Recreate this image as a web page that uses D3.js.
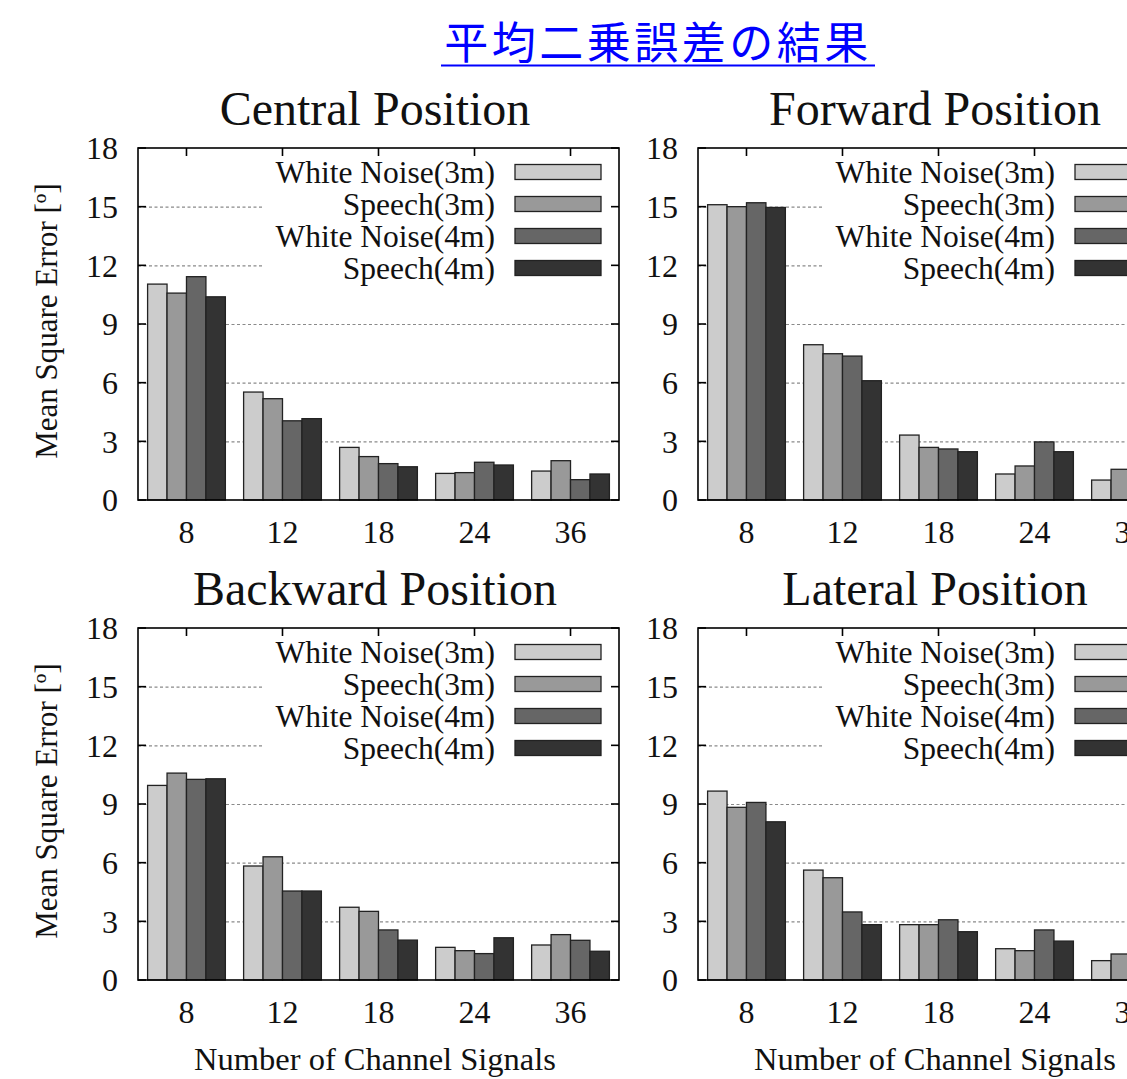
<!DOCTYPE html>
<html>
<head>
<meta charset="utf-8">
<script src="https://cdn.jsdelivr.net/npm/d3@7/dist/d3.min.js"></script>
<style>
  html, body { margin: 0; padding: 0; background: #fff; overflow: hidden; }
  svg { display: block; }
</style>
</head>
<body>
<script>
// Channel counts on the x axis
const categories = ["8", "12", "18", "24", "36"];
// Measurement conditions (one bar per condition in each group)
const seriesNames = ["White Noise(3m)", "Speech(3m)", "White Noise(4m)", "Speech(4m)"];
const seriesColors = ["#cccccc", "#999999", "#666666", "#333333"];
const yTicks = [0, 3, 6, 9, 12, 15, 18];

// Mean square error [deg] per channel count, in series order
const centralValues = [
  [11.04, 10.58, 11.42, 10.39],
  [5.52, 5.18, 4.05, 4.16],
  [2.69, 2.22, 1.86, 1.70],
  [1.36, 1.40, 1.93, 1.79],
  [1.48, 2.01, 1.04, 1.33]
];
const forwardValues = [
  [15.10, 15.00, 15.20, 14.96],
  [7.94, 7.48, 7.36, 6.10],
  [3.32, 2.69, 2.61, 2.47],
  [1.33, 1.74, 2.97, 2.47],
  [1.02, 1.57, 1.90, 1.40]
];
const backwardValues = [
  [9.95, 10.58, 10.26, 10.29],
  [5.83, 6.30, 4.55, 4.55],
  [3.72, 3.51, 2.56, 2.04],
  [1.67, 1.50, 1.35, 2.16],
  [1.79, 2.32, 2.03, 1.47]
];
const lateralValues = [
  [9.66, 8.83, 9.08, 8.09],
  [5.62, 5.23, 3.48, 2.83],
  [2.83, 2.83, 3.08, 2.47],
  [1.60, 1.50, 2.56, 1.99],
  [0.99, 1.33, 1.60, 1.20]
];

const panels = [
  { title: "Central Position", values: centralValues, col: 0, row: 0 },
  { title: "Forward Position", values: forwardValues, col: 1, row: 0 },
  { title: "Backward Position", values: backwardValues, col: 0, row: 1 },
  { title: "Lateral Position", values: lateralValues, col: 1, row: 1 }
];

const W = 1127, H = 1079;
const serif = "'Liberation Serif', 'Times New Roman', serif";

const svg = d3.select("body").append("svg")
  .attr("width", W).attr("height", H)
  .attr("viewBox", `0 0 ${W} ${H}`);
svg.append("rect").attr("width", W).attr("height", H).attr("fill", "#fff");

// Page heading
svg.append("text")
  .attr("x", 658).attr("y", 59)
  .attr("text-anchor", "middle")
  .attr("font-family", "'Noto Sans CJK JP', 'Noto Sans CJK SC', sans-serif")
  .attr("font-size", 44)
  .attr("letter-spacing", 3.5)
  .attr("fill", "#0000ff")
  .text("平均二乗誤差の結果");
svg.append("line")
  .attr("x1", 441).attr("x2", 875)
  .attr("y1", 65.5).attr("y2", 65.5)
  .attr("stroke", "#0000ff").attr("stroke-width", 2);

const plotW = 481, plotH = 352;

panels.forEach(p => {
  const left = 138 + 560 * p.col;
  const top = 148 + 480 * p.row;
  const g = svg.append("g").attr("transform", `translate(${left},${top})`);

  const x0 = d3.scaleBand().domain(categories).range([0, plotW])
    .paddingInner(0.19).paddingOuter(0.1);
  const x1 = d3.scaleBand().domain(d3.range(seriesNames.length))
    .range([0, x0.bandwidth()]);
  const y = d3.scaleLinear().domain([0, 18]).range([plotH, 0]);

  // Dashed horizontal grid
  g.append("g").selectAll("line")
    .data(yTicks.filter(t => t > 0 && t < 18))
    .join("line")
    .attr("x1", 0).attr("x2", plotW)
    .attr("y1", d => y(d) + 0.5).attr("y2", d => y(d) + 0.5)
    .attr("stroke", "#8a8a8a").attr("stroke-width", 1.2)
    .attr("stroke-dasharray", "3,2.5");

  // Legend backdrop hides the grid behind the key
  g.append("rect")
    .attr("x", 126).attr("y", 1)
    .attr("width", plotW - 127).attr("height", 141)
    .attr("fill", "#fff");

  // Bars
  const groups = g.append("g").selectAll("g")
    .data(p.values)
    .join("g")
    .attr("transform", (d, i) => `translate(${x0(categories[i])},0)`);
  groups.selectAll("rect")
    .data(d => d)
    .join("rect")
    .attr("x", (d, i) => x1(i))
    .attr("width", x1.bandwidth())
    .attr("y", d => y(d))
    .attr("height", d => plotH - y(d))
    .attr("fill", (d, i) => seriesColors[i])
    .attr("stroke", "#222").attr("stroke-width", 1.3);

  // Legend
  const leg = g.append("g").selectAll("g")
    .data(seriesNames)
    .join("g")
    .attr("transform", (d, i) => `translate(0,${24 + 32 * i})`);
  leg.append("text")
    .attr("x", 357).attr("y", 0)
    .attr("dy", "0.34em")
    .attr("text-anchor", "end")
    .attr("font-family", serif).attr("font-size", 31.5)
    .attr("fill", "#111")
    .text(d => d);
  leg.append("rect")
    .attr("x", 377).attr("y", -7.5)
    .attr("width", 86).attr("height", 15)
    .attr("fill", (d, i) => seriesColors[i])
    .attr("stroke", "#222").attr("stroke-width", 1.3);

  // Frame with inward ticks
  const tickLen = 8;
  const frame = g.append("g").attr("stroke", "#000").attr("stroke-width", 1.6).attr("fill", "none");
  frame.append("rect").attr("x", 0).attr("y", 0).attr("width", plotW).attr("height", plotH);
  frame.selectAll(".yl").data(yTicks).join("line")
    .attr("x1", 0).attr("x2", tickLen)
    .attr("y1", d => y(d)).attr("y2", d => y(d));
  frame.selectAll(".yr").data(yTicks).join("line")
    .attr("x1", plotW - tickLen).attr("x2", plotW)
    .attr("y1", d => y(d)).attr("y2", d => y(d));
  frame.selectAll(".xt").data(categories).join("line")
    .attr("x1", d => x0(d) + x0.bandwidth() / 2).attr("x2", d => x0(d) + x0.bandwidth() / 2)
    .attr("y1", 0).attr("y2", tickLen);

  // Tick labels
  g.append("g").selectAll("text").data(yTicks).join("text")
    .attr("x", -20).attr("y", d => y(d))
    .attr("dy", "0.35em")
    .attr("text-anchor", "end")
    .attr("font-family", serif).attr("font-size", 32).attr("fill", "#111")
    .text(d => d);
  g.append("g").selectAll("text").data(categories).join("text")
    .attr("x", d => x0(d) + x0.bandwidth() / 2).attr("y", plotH + 43)
    .attr("text-anchor", "middle")
    .attr("font-family", serif).attr("font-size", 32).attr("fill", "#111")
    .text(d => d);

  // Panel title
  g.append("text")
    .attr("x", 237).attr("y", -23)
    .attr("text-anchor", "middle")
    .attr("font-family", serif).attr("font-size", 48).attr("fill", "#111")
    .text(p.title);

  // Axis titles on the outer panels
  if (p.row === 1) {
    g.append("text")
      .attr("x", 237).attr("y", plotH + 90)
      .attr("text-anchor", "middle")
      .attr("font-family", serif).attr("font-size", 32.5).attr("fill", "#111")
      .text("Number of Channel Signals");
  }
  if (p.col === 0) {
    g.append("text")
      .attr("transform", `translate(${57 - left},${plotH / 2 - 3}) rotate(-90)`)
      .attr("text-anchor", "middle")
      .attr("font-family", serif).attr("font-size", 31).attr("fill", "#111")
      .text("Mean Square Error [º]");
  }
});
</script>
</body>
</html>
